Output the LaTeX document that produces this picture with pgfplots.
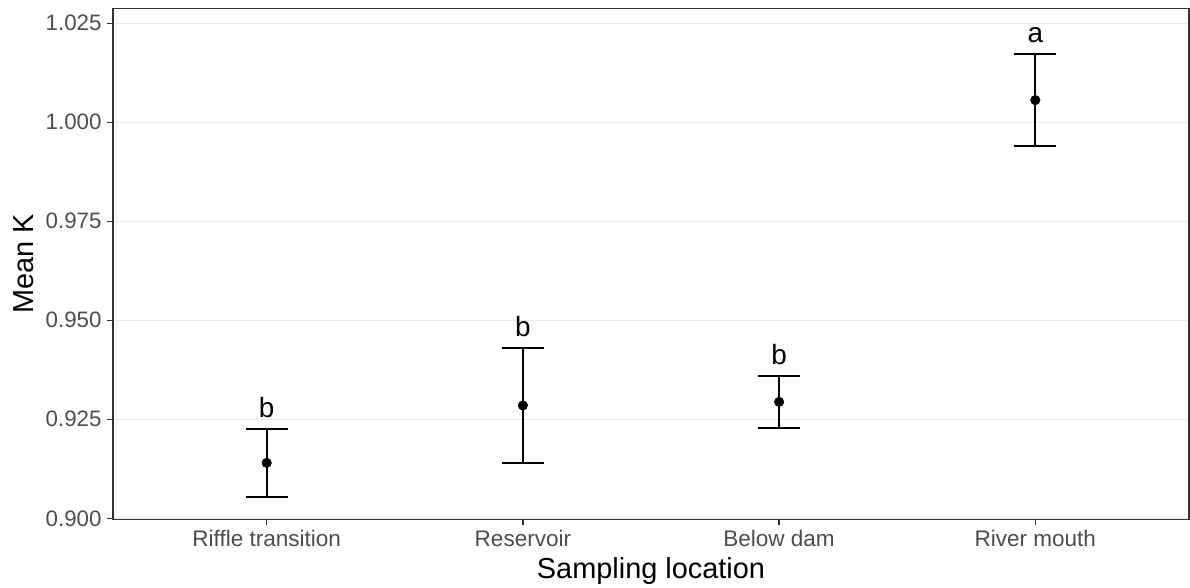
\documentclass[border=0pt]{standalone}
\usepackage{pgfplots}
\pgfplotsset{compat=1.18}
\usepackage{pgfplotstable}
\usepackage{fontspec}
\setmainfont{Liberation Sans}
\definecolor{gridgray}{HTML}{EBEBEB}
\definecolor{bordergray}{HTML}{333333}
\definecolor{ticktext}{HTML}{4D4D4D}

\pgfplotstableread{
x  y       err     upper    lab
1  0.9140  0.0086  0.9226   b
2  0.9285  0.0145  0.9430   b
3  0.9294  0.0066  0.9360   b
4  1.0056  0.0116  1.0172   a
}\datatable

\begin{document}
\begin{tikzpicture}
\begin{axis}[
  scale only axis,
  width=1076bp, height=511bp,
  xmin=0.4, xmax=4.6,
  ymin=0.89975, ymax=1.02879,
  xtick={1,2,3,4},
  xticklabels={Riffle transition,Reservoir,Below dam,River mouth},
  ytick={0.900,0.925,0.950,0.975,1.000,1.025},
  yticklabels={0.900,0.925,0.950,0.975,1.000,1.025},
  tick align=outside,
  major tick length=6bp,
  tick style={bordergray, line width=1.3bp},
  xtick pos=bottom, ytick pos=left,
  ymajorgrids,
  grid style={gridgray, line width=1.1bp},
  axis line style={bordergray, line width=1.4bp},
  xticklabel style={font=\fontsize{22.6}{26}\selectfont, text=ticktext, anchor=base, inner sep=0pt, yshift=-21.4bp},
  yticklabel style={font=\fontsize{22.4}{26}\selectfont, text=ticktext, anchor=east, inner sep=0pt, xshift=-5.3bp},
  xlabel={Sampling location},
  ylabel={Mean K},
  every axis x label/.style={at={(axis description cs:0.5,-0.11546)}, anchor=base, font=\fontsize{29}{32}\selectfont},
  every axis y label/.style={at={(axis description cs:-0.07407,0.5)}, anchor=base, rotate=90, font=\fontsize{29}{32}\selectfont},
  clip=false,
]
\addplot[
  only marks, mark=*, mark size=4.8bp, mark options={black, fill=black},
  error bars/.cd, y dir=both, y explicit,
  error mark=|,
  error bar style={black, line width=2.4bp},
  error mark options={black, line width=2.4bp, mark size=20.8bp},
] table[x=x, y=y, y error=err] {\datatable};
\addplot[
  only marks, mark=none,
  point meta=explicit symbolic,
  nodes near coords,
  nodes near coords style={anchor=base, inner sep=0pt, yshift=11.3bp, font=\fontsize{28}{32}\selectfont, text=black},
] table[x=x, y=upper, meta=lab] {\datatable};
\end{axis}
\path ([shift={(-113bp,-66.7bp)}]current axis.south west) rectangle ([shift={(1bp,8.3bp)}]current axis.north east);
\end{tikzpicture}
\end{document}
